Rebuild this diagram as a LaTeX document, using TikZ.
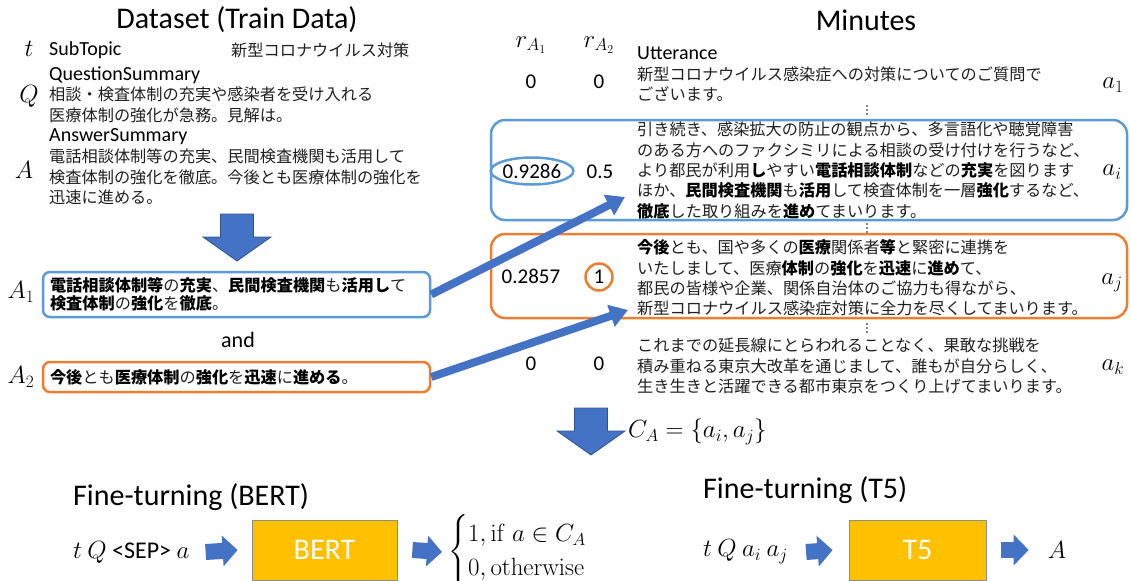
\documentclass[tikz,border=0pt]{standalone}
\usepackage{amsmath}
\usepackage[no-math]{fontspec}
\setmainfont{Carlito}
\newfontfamily\jp{Noto Sans CJK JP}
\usetikzlibrary{arrows.meta,calc,shapes.geometric}
\definecolor{cblue}{HTML}{5B9BD5}
\definecolor{corange}{HTML}{ED7D31}
\definecolor{afill}{HTML}{4472C4}
\definecolor{aedge}{HTML}{2F528F}
\definecolor{gold}{HTML}{FFC000}
\newcommand\hl[1]{\textbf{\color{black}#1}}
\begin{document}
\begin{tikzpicture}[x=1pt,y=-1pt,
  title/.style={font=\fontsize{30}{36}\selectfont, inner sep=0},
  lbl/.style={font=\fontsize{20}{24}\selectfont, inner sep=0, anchor=west},
  num/.style={font=\fontsize{21}{25}\selectfont, inner sep=0},
  mth/.style={font=\fontsize{23}{27}\selectfont, inner sep=0},
  jtext/.style={font=\jp\fontsize{16.2}{20.3}\selectfont, text=black!88, align=left, anchor=west, inner sep=0},
  jbox/.style={font=\jp\fontsize{16.2}{18.5}\selectfont, text=black!88, rounded corners=7pt, line width=2.5pt,
    minimum width=387pt, text width=373pt, align=left, inner xsep=7pt, inner ysep=0pt},
  rbox/.style={rounded corners=14pt, line width=2.5pt, minimum width=636pt, inner sep=0},
  mbox/.style={fill=gold, draw=black!45, line width=0.8pt, minimum height=60pt, inner sep=0,
    text=white, font=\fontsize{30}{36}\selectfont},
  fatarr/.style={draw=afill, line width=8pt, -{Triangle[width=22pt,length=18pt]}},
  blockarr/.style={draw=afill, line width=16pt, -{Triangle[width=30pt,length=15pt]}},
  downarr/.pic={\draw[fill=afill, draw=aedge, line width=0.8pt] (-16.5,0) -- (16.5,0) -- (16.5,23) -- (34,23) -- (0,47) -- (-34,23) -- (-16.5,23) -- cycle;},
  vdots/.pic={\foreach \k in {-4,0,4} \fill (0,\k) circle (0.9pt);}
]
\useasboundingbox (0,0) rectangle (1130,581);

% ---------- left: dataset ----------
\node[title] (dtitle) at (237,20) {Dataset (Train Data)};
\node[mth] (tsym) at (29,49) {$t$};
\node[lbl] (subtopic) at (49,50) {SubTopic};
\node[jtext] (subval) at (231,50) {新型コロナウイルス対策};
\node[lbl] (qsum) at (49,75) {QuestionSummary};
\node[mth] (qsym) at (29,96) {$Q$};
\node[jtext] (qtext) at (49,105) {相談・検査体制の充実や感染者を受け入れる\\医療体制の強化が急務。見解は。};
\node[lbl] (asum) at (49,137) {AnswerSummary};
\node[mth] (asym) at (24,170) {$A$};
\node[jtext] (atext) at (49,177) {電話相談体制等の充実、民間検査機関も活用して\\検査体制の強化を徹底。今後とも医療体制の強化を\\迅速に進める。};

\pic at (237,214) {downarr};

\node[mth] (a1sym) at (21,292) {$A_1$};
\node[jbox, draw=cblue, minimum height=45pt] (a1) at (236.5,294.5)
  {\hl{電話相談体制等}の\hl{充実}、\hl{民間検査機関}も\hl{活用し}て\\\hl{検査体制}の\hl{強化}を\hl{徹底}。};
\node[font=\fontsize{22}{26}\selectfont, inner sep=0] (and) at (238,340) {and};
\node[mth] (a2sym) at (21,377) {$A_2$};
\node[jbox, draw=corange, minimum height=30pt] (a2) at (236.5,377)
  {\hl{今後}とも\hl{医療体制}の\hl{強化}を\hl{迅速}に\hl{進める}。};

% ---------- right: minutes ----------
\node[title] (mtitle) at (866,20) {Minutes};
\node[mth] (r1) at (531,45) {$r_{A_1}$};
\node[mth] (r2) at (599,45) {$r_{A_2}$};
\node[lbl] (utt) at (637,53) {Utterance};

\node[num] (n11) at (531,82) {0};
\node[num] (n12) at (599,82) {0};
\node[jtext] (u1) at (637,84) {新型コロナウイルス感染症への対策についてのご質問で\\ございます。};
\node[mth] (lab1) at (1113,85) {$a_1$};

\pic at (867,110) {vdots};

\node[rbox, draw=cblue, minimum height=100pt] (boxi) at (809,170) {};
\node[num, ellipse, draw=cblue, line width=2.5pt, minimum width=74pt, minimum height=27pt] (ni1) at (532,171) {0.9286};
\node[num] (ni2) at (600,172) {0.5};
\node[jtext] (ui) at (637,170.5) {引き続き、感染拡大の防止の観点から、多言語化や聴覚障害\\のある方へのファクシミリによる相談の受け付けを行うなど、\\より都民が利用\hl{し}やすい\hl{電話相談体制}などの\hl{充実}を図ります\\ほか、\hl{民間検査機関}も\hl{活用}して検査体制を一層\hl{強化}するなど、\\\hl{徹底}した取り組みを\hl{進め}てまいります。};
\node[mth] (labi) at (1112,172) {$a_i$};

\pic at (867,228) {vdots};

\node[rbox, draw=corange, minimum height=84pt] (boxj) at (809,276) {};
\node[num] (nj1) at (531,276) {0.2857};
\node[num, circle, draw=corange, line width=2.5pt, minimum size=27pt] (nj2) at (599,277) {1};
\node[jtext] (uj) at (637,278) {\hl{今後}とも、国や多くの\hl{医療}関係者\hl{等}と緊密に連携を\\いたしまして、医療\hl{体制}の\hl{強化}を\hl{迅速}に\hl{進め}て、\\都民の皆様や企業、関係自治体のご協力も得ながら、\\新型コロナウイルス感染症対策に全力を尽くしてまいります。};
\node[mth] (labj) at (1112,283) {$a_j$};

\pic at (867,328) {vdots};

\node[num] (nk1) at (531,364) {0};
\node[num] (nk2) at (599,364) {0};
\node[jtext] (uk) at (637,366) {これまでの延長線にとらわれることなく、果敢な挑戦を\\積み重ねる東京大改革を通じまして、誰もが自分らしく、\\生き生きと活躍できる都市東京をつくり上げてまいります。};
\node[mth] (labk) at (1113,367) {$a_k$};

\pic at (591,408) {downarr};
\node[font=\fontsize{24}{28}\selectfont, anchor=west, inner sep=0] (ca) at (628,432) {$C_A=\{a_i,a_j\}$};

% diagonal arrows
\coordinate (tip1) at (625,197);
\coordinate (tip2) at (628,310);
\draw[fatarr] (a1.east) -- (tip1);
\draw[fatarr] (a2.east) -- (tip2);

% ---------- bottom: fine-tuning ----------
\node[title, anchor=west] (ftb) at (73,497) {Fine-turning (BERT)};
\node[font=\fontsize{24}{28}\selectfont, anchor=west, inner sep=0] (inb) at (73,552) {$t\ Q$ <SEP> $a$};
\node[mbox, minimum width=145pt] (bert) at (324.5,550) {BERT};
\node[font=\fontsize{23.5}{28}\selectfont, anchor=west, inner sep=0] (outb) at (448,552)
  {$\begin{cases}1,\mathrm{if}\; a\in C_A\\ 0,\mathrm{otherwise}\end{cases}$};
\draw[blockarr] ([xshift=16pt]inb.east) -- ([xshift=-14pt]bert.west);
\draw[blockarr] ([xshift=15pt]bert.east) -- ([xshift=-6pt]outb.west);

\node[title, anchor=west] (ftt) at (703,490) {Fine-turning (T5)};
\node[font=\fontsize{24}{28}\selectfont, anchor=west, inner sep=0] (int) at (703,552) {$t\ Q\ a_i\ a_j$};
\node[mbox, minimum width=137pt] (t5) at (917.5,550) {T5};
\node[font=\fontsize{24}{28}\selectfont, inner sep=0] (outt) at (1057,550) {$A$};
\draw[blockarr] ([xshift=18pt]int.east) -- ([xshift=-16pt]t5.west);
\draw[blockarr] ([xshift=15pt]t5.east) -- ([xshift=-19pt]outt.west);
\end{tikzpicture}
\end{document}
